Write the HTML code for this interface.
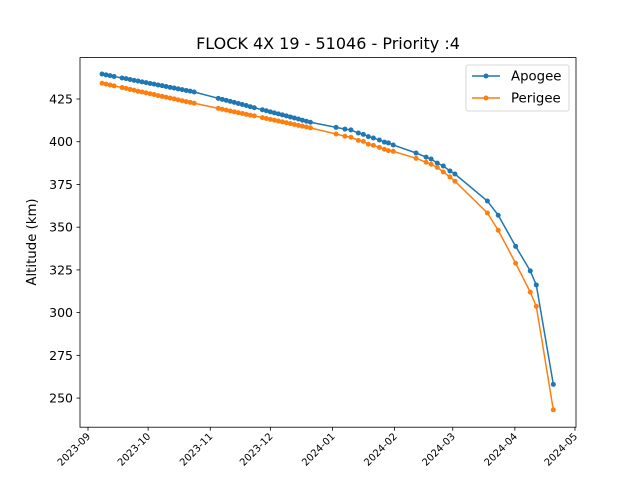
<!DOCTYPE html>
<html><head><meta charset="utf-8"><style>
body{margin:0;background:#fff;}
svg{display:block;font-family:"DejaVu Sans","Liberation Sans",sans-serif;}
</style></head><body>
<svg id="chart" width="640" height="480" viewBox="0 0 640 480" xmlns="http://www.w3.org/2000/svg">
<rect width="640" height="480" fill="#fff"/>
<text x="328" y="49" font-size="16" text-anchor="middle">FLOCK 4X 19 - 51046 - Priority :4</text>
<text transform="translate(36,242) rotate(-90)" font-size="13.3" text-anchor="middle">Altitude (km)</text>
<g id="plot"></g>
<rect x="80" y="57.6" width="496" height="369.6" fill="none" stroke="#000" stroke-width="0.8"/>
<g>
<rect x="466" y="65" width="103" height="46" rx="2" fill="#fff" stroke="#ccc" stroke-width="0.8"/>
<line x1="472" y1="76" x2="500" y2="76" stroke="#1f77b4" stroke-width="1.5"/><circle cx="486" cy="76" r="2.5" fill="#1f77b4"/>
<text x="511" y="80.5" font-size="13.3">Apogee</text>
<line x1="472" y1="98" x2="500" y2="98" stroke="#ff7f0e" stroke-width="1.5"/><circle cx="486" cy="98" r="2.5" fill="#ff7f0e"/>
<text x="511" y="102.5" font-size="13.3">Perigee</text>
</g>
</svg>
<script>
// days since 2023-09-01
const days = [7,9,11,13,17,19,21,23,25,27,29,31,33,35,37,39,41,43,45,47,49,51,53,
65,67,69,71,73,75,77,79,81,83,87,89,91,93,95,97,99,101,103,105,107,109,111,
123.8,128.2,131.2,134.9,137.4,139.9,142.4,145.4,147.9,149.9,152.3,163.7,168.7,171.2,174.3,177.3,180.6,183.1,199.3,204.7,213.4,220.7,223.7,232.2];
const apogee = [439.6,439.1,438.7,438.2,437.3,436.9,436.4,435.9,435.5,435.0,434.6,434.1,433.7,433.2,432.8,432.3,431.8,431.4,430.9,430.5,430.0,429.6,429.1,
425.4,424.8,424.2,423.6,423.0,422.4,421.8,421.2,420.5,419.9,418.7,418.1,417.5,416.9,416.3,415.7,415.1,414.5,413.9,413.3,412.6,412.0,411.4,
408.4,407.4,406.9,405.1,404.3,403.0,402.2,401.0,399.8,399.3,398.1,393.4,391.0,389.9,387.5,385.8,382.9,381.1,365.3,357.0,338.8,324.4,316.2,258.0];
const perigee = [434.2,433.7,433.2,432.7,431.7,431.2,430.6,430.1,429.5,429.1,428.6,428.1,427.6,427.0,426.5,426.0,425.5,425.1,424.5,424.0,423.5,423.0,422.5,
419.5,419.0,418.5,418.0,417.5,417.0,416.5,416.0,415.5,415.1,414.1,413.6,413.1,412.6,412.1,411.6,411.1,410.6,410.1,409.6,409.1,408.6,408.1,
404.5,403.2,402.6,400.8,400.2,398.5,397.9,396.7,395.6,394.8,394.4,390.3,388.0,386.8,385.0,382.3,379.4,376.9,358.3,348.2,328.9,312.0,303.7,243.1];
const yTicks = [250,275,300,325,350,375,400,425];
const xTickLabels = ["2023-09","2023-10","2023-11","2023-12","2024-01","2024-02","2024-03","2024-04","2024-05"];
const xTickDays = [0,30,61,91,122,153,182,213,243];

const NS="http://www.w3.org/2000/svg";
const xS = d => 88 + d*2.004;
const yS = v => 99 + (425 - v)*1.709;
const g = document.getElementById('plot');
function mk(tag, attrs){const e=document.createElementNS(NS,tag);for(const k in attrs)e.setAttribute(k,attrs[k]);g.appendChild(e);return e;}
yTicks.forEach(v=>{
  const y=yS(v);
  const t=mk('line',{x1:76.5,x2:80,y1:y,y2:y,stroke:'#000','stroke-width':0.8});
  
  
  const l=mk('text',{x:73,y:y+4.5,'font-size':12.5,'text-anchor':'end'});
  
  
  l.textContent=v;
});
xTickDays.forEach((d,i)=>{
  const x=xS(d);
  const t=mk('line',{x1:x,x2:x,y1:427.2,y2:430.7,stroke:'#000','stroke-width':0.8});
  
  
  const l=mk('text',{transform:`translate(${x+3},${437}) rotate(-45)`,'font-size':10,'text-anchor':'end'});
  
  
  l.textContent=xTickLabels[i];
});
function series(vals,color,name){
  const p=mk('polyline',{points:days.map((d,i)=>xS(d)+','+yS(vals[i])).join(' '),fill:'none',stroke:color,'stroke-width':1.5});
  
  
  days.forEach((d,i)=>{
    const c=mk('circle',{cx:xS(d),cy:yS(vals[i]),r:2.5,fill:color});
    
    
  });
}
series(apogee,'#1f77b4','apogee');
series(perigee,'#ff7f0e','perigee');
</script>
</body></html>
